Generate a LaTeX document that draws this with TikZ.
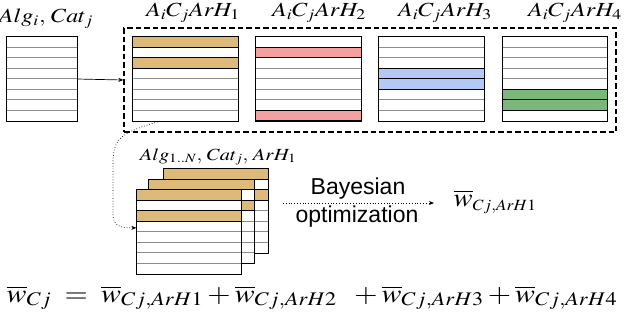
\documentclass[tikz,border=0pt]{standalone}
\usepackage{mathptmx}
\usepackage[no-math]{fontspec}
\usepackage{graphicx}
\newfontfamily\bayesfont{Liberation Sans}
\usetikzlibrary{arrows.meta,calc,positioning}
\usepackage{xcolor}
\definecolor{rowtan}{HTML}{DDB97A}
\definecolor{rowpink}{HTML}{F4A0A0}
\definecolor{rowblue}{HTML}{B3C8F5}
\definecolor{rowgreen}{HTML}{7AB87A}
\definecolor{rowgrey}{HTML}{8C8C8C}

\tikzset{
  tblspot/.style={inner sep=0pt,minimum width=105pt,minimum height=84pt},
  tblborder/.style={line width=1.3pt},
  rowline/.style={rowgrey,line width=0.9pt},
  lbl/.style={font=\fontsize{20}{22}\selectfont,inner sep=0pt},
}

% wider math text, as in the reference
\newcommand{\wide}[2][1.2]{\scalebox{#1}[1]{#2}}

% rows of one table: node name, colour, coloured rows
\newcommand{\tablerows}[3]{%
  \fill[white] (#1.north west) rectangle (#1.south east);
  \foreach \r in {1,...,7} {
    \draw[rowline] ($(#1.north west)+(0,\r*10.5)$) -- ($(#1.north east)+(0,\r*10.5)$);
  }
  \foreach \r in {#3} {
    \filldraw[#2,draw=black,line width=0.9pt] ($(#1.north west)+(0,{(\r-1)*10.5})$) rectangle ($(#1.north east)+(0,\r*10.5)$);
  }
  \draw[tblborder] (#1.north west) rectangle (#1.south east);
}

\begin{document}
\begin{tikzpicture}[x=1pt,y=-1pt]
  \useasboundingbox (0,0) rectangle (624,322);
  % Input table
  \node[tblspot,minimum width=70pt] (t0) at (42,79) {};
  \tablerows{t0}{white}{}
  \node[lbl] (l0) at (46,19) {\wide{$Alg_i,\,Cat_j$}};
  % Group of four tables
  \node[draw,dashed,line width=1.3pt,dash pattern=on 5.5pt off 3pt,minimum width=492pt,minimum height=104pt,inner sep=0pt] (grp) at (370,80) {};
  \node[tblspot] (t1) at (185.5,79) {};
  \node[tblspot] (t2) at (308.5,79) {};
  \node[tblspot] (t3) at (431.5,79) {};
  \node[tblspot] (t4) at (555,79) {};
  \tablerows{t1}{rowtan}{1,3}
  \tablerows{t2}{rowpink}{2,8}
  \tablerows{t3}{rowblue}{4,5}
  \tablerows{t4}{rowgreen}{6,7}
  \node[lbl] (l1) at (193,13) {\wide{$A_iC_jArH_1$}};
  \node[lbl] (l2) at (319,13) {\wide{$A_iC_jArH_2$}};
  \node[lbl] (l3) at (445,13) {\wide{$A_iC_jArH_3$}};
  \node[lbl] (l4) at (575,13) {\wide{$A_iC_jArH_4$}};
  \draw[-{Stealth[length=5pt,width=4pt]},line width=0.7pt] (t0.east) -- (grp.west);
  % Stack for ArH1
  \node[tblspot] (s3) at (216,211) {};
  \node[tblspot] (s2) at (201.5,221.5) {};
  \node[tblspot] (s1) at (189,232) {};
  \tablerows{s3}{rowtan}{1,3}
  \tablerows{s2}{rowtan}{1,3}
  \tablerows{s1}{rowtan}{1,3}
  \node[lbl,font=\fontsize{17}{19}\selectfont] (ls) at (218,157) {\wide{$Alg_{1..N},\,Cat_j,\,ArH_1$}};
  \draw[dotted,line width=0.7pt,-{Stealth[length=5pt,width=4pt]}] ($(t1.south west)!0.26!(t1.south east)$) .. controls (118,133) and (113,140) .. (113,165) -- (113,214) .. controls (113,226) and (120,228) .. ($(s1.north west)+(0,38)$);
  % Bayesian optimization
  \coordinate (bstart) at (283,203);
  \coordinate (bend) at (434,203);
  \draw[dotted,line width=0.8pt,-{Stealth[length=5pt,width=4pt]}] (bstart) -- (bend);
  \node[font=\bayesfont\fontsize{23}{25}\selectfont,inner sep=0pt] (bay) at (358,189) {Bayesian};
  \node[font=\bayesfont\fontsize{23}{25}\selectfont,inner sep=0pt] (opt) at (357,217) {optimization};
  \node[lbl,font=\fontsize{26}{28}\selectfont] (wres) at (495,202) {\wide[1.1]{$\overline{w}_{\scriptscriptstyle Cj,ArH1}$}};
  % Sum
  \node[lbl,font=\fontsize{26}{28}\selectfont,anchor=base] (eq) at (312,302) {\wide[1.15]{$\overline{w}_{Cj}\;=\;\overline{w}_{Cj,ArH1}+\overline{w}_{Cj,ArH2}\;\;+\overline{w}_{Cj,ArH3}+\overline{w}_{Cj,ArH4}$}};
\end{tikzpicture}
\end{document}
